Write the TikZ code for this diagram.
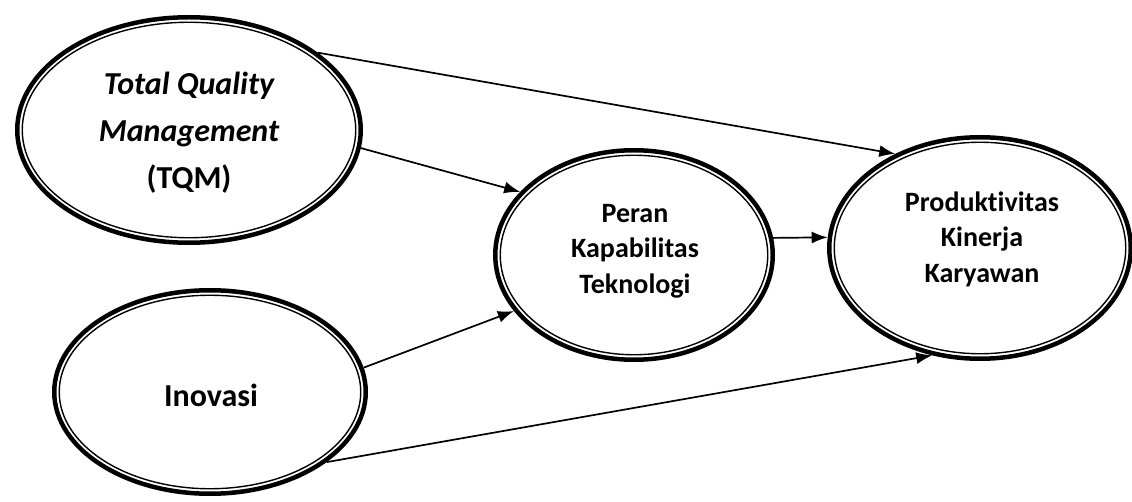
\documentclass[tikz,border=0pt]{standalone}
\usepackage{fontspec}
\setmainfont{Carlito}[Ligatures=NoCommon]
\usetikzlibrary{shapes.geometric,arrows.meta}
\begin{document}
\begin{tikzpicture}[x=1pt,y=-1pt,
  ring/.style={ellipse,draw,line width=4.5pt,inner sep=0pt},
  inner ring/.style={line width=1.4pt},
  big/.style={align=center,font=\fontsize{32}{47}\selectfont\bfseries},
  small/.style={align=center,font=\fontsize{28}{35.5}\selectfont\bfseries},
  link/.style={line width=1.7pt,-{Latex[length=16pt,width=12pt]}}]
\useasboundingbox (0,0) rectangle (1132,502);

% latent constructs: thick outer ellipse with a thin ring inside
\node[ring,minimum width=343.5pt,minimum height=225.5pt] (tqm) at (189,130) {};
\draw[inner ring] (tqm.center) ellipse [x radius=166.75pt,y radius=107.75pt];
\node[big] (tqmtext) at (189,133) {\itshape Total Quality\\ \itshape Management\\ (TQM)};

\node[ring,minimum width=311.5pt,minimum height=203.5pt] (ino) at (210,392) {};
\draw[inner ring] (ino.center) ellipse [x radius=150.75pt,y radius=96.75pt];
\node[big] (inotext) at (211,395) {Inovasi};

\node[ring,minimum width=277.5pt,minimum height=209.5pt] (peran) at (634,255) {};
\draw[inner ring] (peran.center) ellipse [x radius=133.75pt,y radius=99.75pt];
\node[small] (perantext) at (635,251) {Peran\\ Kapabilitas\\ Teknologi};

\node[ring,minimum width=301.5pt,minimum height=221.5pt] (prod) at (980,248) {};
\draw[inner ring] (prod.center) ellipse [x radius=145.75pt,y radius=105.75pt];
\node[small] (prodtext) at (982,239) {Produktivitas\\ Kinerja\\ Karyawan};

% structural paths
\draw[link] (tqm.31) -- (prod.132);
\draw[link] (tqm.-6) -- (peran.151);
\draw[link] (ino.9) -- (peran.205);
\draw[link] (peran.7) -- (prod.176);
\draw[link] (ino.-31) -- (prod.246);
\end{tikzpicture}
\end{document}
